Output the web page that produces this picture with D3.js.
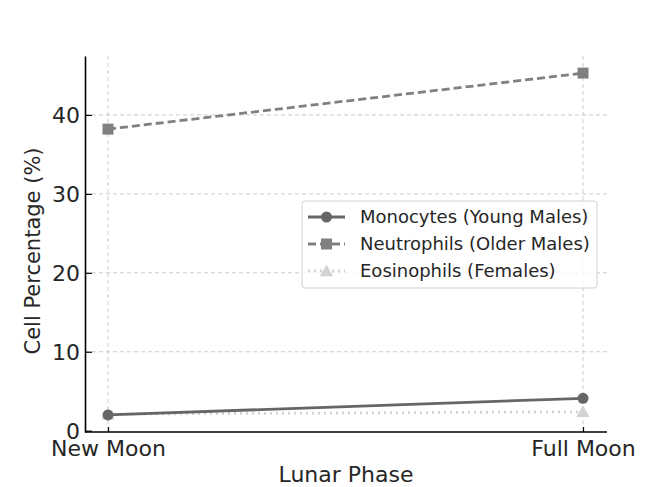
<!DOCTYPE html>
<html>
<head>
<meta charset="utf-8">
<script src="https://cdn.jsdelivr.net/npm/d3@7"></script>
<style>
  body { margin: 0; background: #fff; }
  text { font-family: "DejaVu Sans", sans-serif; fill: #262626; }
</style>
</head>
<body>
<svg id="svg" width="657" height="487"></svg>
<script>
const phases = ["New Moon", "Full Moon"];
const monocytes = [2.0, 4.1];
const neutrophils = [38.2, 45.3];
const eosinophils = [2.1, 2.4];
const yTicks = [0, 10, 20, 30, 40];

const seriesList = [
  { name: "Monocytes (Young Males)", values: monocytes, color: "#666666", dash: null, marker: "circle" },
  { name: "Neutrophils (Older Males)", values: neutrophils, color: "#808080", dash: "8,4", marker: "square" },
  { name: "Eosinophils (Females)", values: eosinophils, color: "#d3d3d3", dash: "2,4", marker: "triangle" }
];

const plotLeft = 85, plotRight = 607, plotTop = 56, plotBottom = 432;
const svg = d3.select("#svg");

const x = d3.scalePoint().domain(phases).range([108, 583]);
const y = d3.scaleLinear().domain([-0.165, 47.465]).range([plotBottom, plotTop]);

// grid
svg.append("g")
  .selectAll("line")
  .data(yTicks.slice(1))
  .join("line")
  .attr("x1", plotLeft).attr("x2", plotRight)
  .attr("y1", d => y(d)).attr("y2", d => y(d))
  .attr("stroke", "#cccccc").attr("stroke-width", 1).attr("stroke-dasharray", "4,3");
svg.append("g")
  .selectAll("line")
  .data(phases)
  .join("line")
  .attr("x1", d => x(d)).attr("x2", d => x(d))
  .attr("y1", plotTop).attr("y2", plotBottom)
  .attr("stroke", "#cccccc").attr("stroke-width", 1).attr("stroke-dasharray", "4,3");

// axes
const yAxis = svg.append("g")
  .attr("transform", `translate(${plotLeft},0)`)
  .call(d3.axisLeft(y).tickValues(yTicks).tickSizeInner(-7).tickSizeOuter(0).tickPadding(5));
const xAxis = svg.append("g")
  .attr("transform", `translate(0,${plotBottom})`)
  .call(d3.axisBottom(x).tickSizeInner(-5).tickSizeOuter(0).tickPadding(8));
xAxis.select(".domain").attr("d", `M${plotLeft},0H${plotRight}`);
[yAxis, xAxis].forEach(a => {
  a.select(".domain").attr("stroke", "#000").attr("stroke-width", 1.6);
  a.selectAll(".tick line").attr("stroke", "#000").attr("stroke-width", 1.2);
  a.selectAll(".tick text").style("font-size", "22px").attr("fill", "#262626");
});
yAxis.selectAll(".tick text").attr("dy", "0.36em");

// axis titles
svg.append("text")
  .attr("x", (plotLeft + plotRight) / 2).attr("y", 482)
  .attr("text-anchor", "middle").style("font-size", "22px")
  .text("Lunar Phase");
svg.append("text")
  .attr("transform", `translate(40,251) rotate(-90)`)
  .attr("text-anchor", "middle").style("font-size", "21px")
  .text("Cell Percentage (%)");

function drawMarker(g, type, color, size) {
  if (type === "circle") {
    g.append("circle").attr("r", size).attr("fill", color);
  } else if (type === "square") {
    g.append("rect").attr("x", -size).attr("y", -size)
      .attr("width", size * 2).attr("height", size * 2).attr("fill", color);
  } else {
    const s = size * 1.2;
    g.append("path").attr("d", `M0,${-s}L${s},${s * 0.8}L${-s},${s * 0.8}Z`).attr("fill", color);
  }
}

const line = d3.line().x((d, i) => x(phases[i])).y(d => y(d));

// draw series in reverse so monocytes sit on top
seriesList.slice().reverse().forEach(s => {
  svg.append("path")
    .datum(s.values)
    .attr("d", line)
    .attr("fill", "none")
    .attr("stroke", s.color)
    .attr("stroke-width", 2.8)
    .attr("stroke-dasharray", s.dash);
  s.values.forEach((v, i) => {
    const g = svg.append("g").attr("transform", `translate(${x(phases[i])},${y(v)})`);
    drawMarker(g, s.marker, s.color, 5.5);
  });
});

// legend
const lg = svg.append("g").attr("transform", "translate(302,201)");
lg.append("rect")
  .attr("width", 295).attr("height", 87).attr("rx", 3)
  .attr("fill", "#fff").attr("fill-opacity", 0.8)
  .attr("stroke", "#d0d0d0").attr("stroke-width", 1);
seriesList.forEach((s, i) => {
  const row = lg.append("g").attr("transform", `translate(0,${16 + i * 27})`);
  row.append("line")
    .attr("x1", 6).attr("x2", 43).attr("y1", 0).attr("y2", 0)
    .attr("stroke", s.color).attr("stroke-width", 2.8)
    .attr("stroke-dasharray", s.dash);
  const m = row.append("g").attr("transform", "translate(24.5,0)");
  drawMarker(m, s.marker, s.color, 5.5);
  row.append("text")
    .attr("x", 58).attr("y", 0).attr("dy", "0.36em")
    .style("font-size", "18px").attr("fill", "#333")
    .text(s.name);
});
</script>
</body>
</html>
